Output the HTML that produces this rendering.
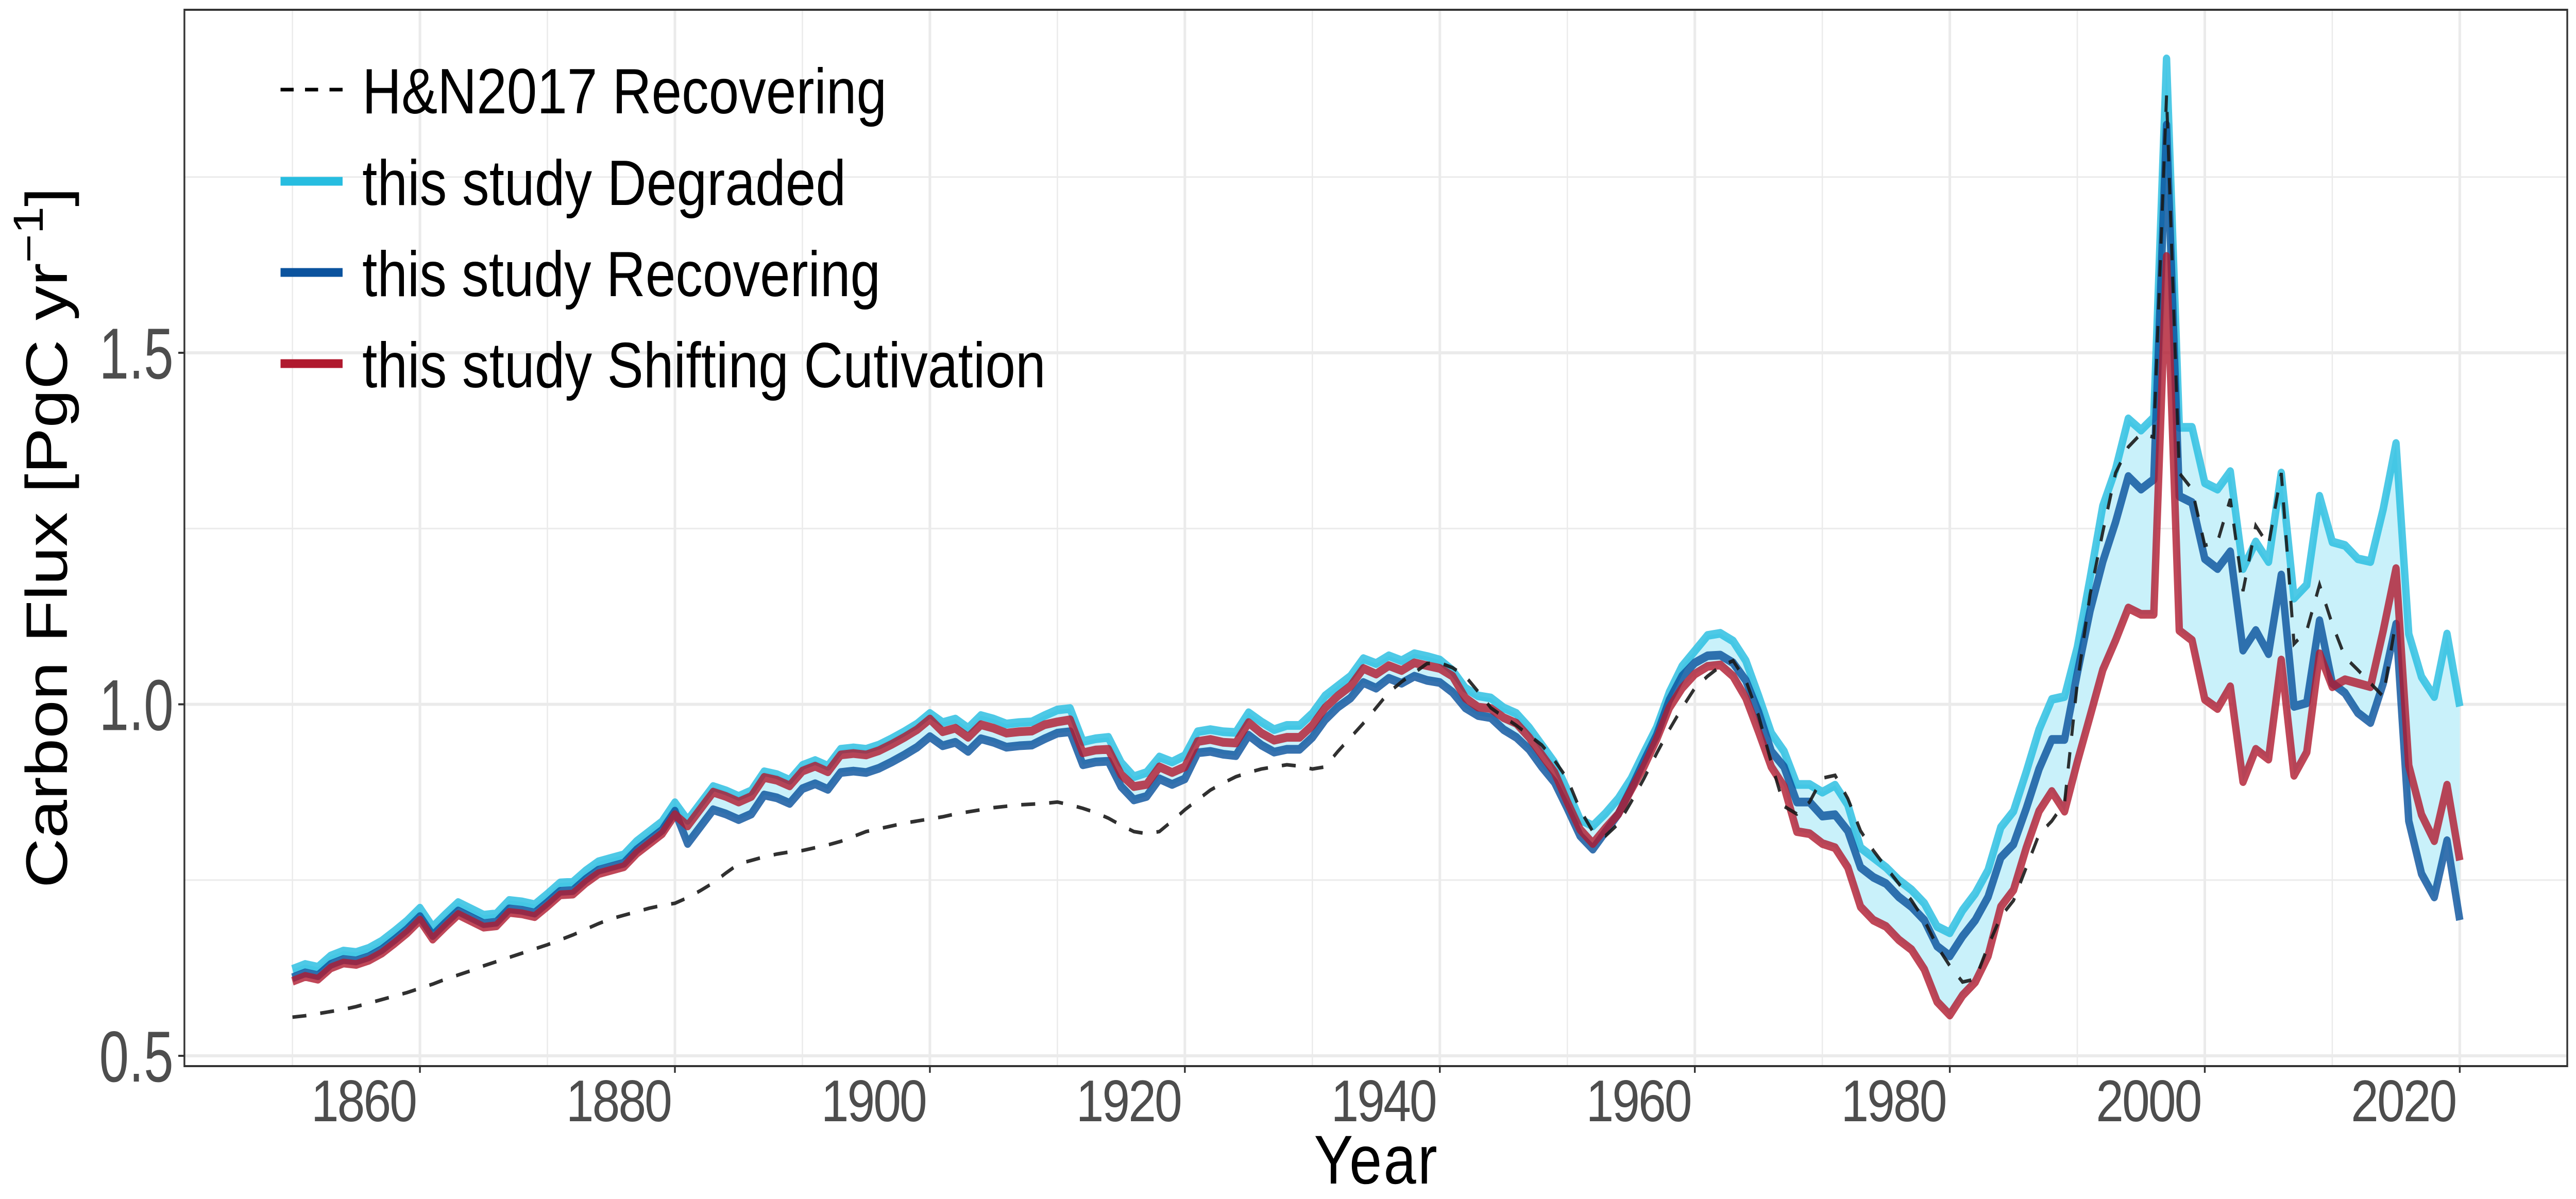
<!DOCTYPE html>
<html><head><meta charset="utf-8"><style>
html,body{margin:0;padding:0;background:#fff;width:100%;height:100%;overflow:hidden;}
svg{display:block;width:100vw;height:100vh;font-family:"Liberation Sans",Arial,sans-serif;}
</style></head><body>
<svg id="chart" viewBox="0 0 5895 2328" preserveAspectRatio="none" xmlns="http://www.w3.org/2000/svg">
<rect x="0" y="0" width="5895" height="2328" fill="#fff"/>
<g id="grid"></g>
<g id="series"></g>
<rect x="422" y="19" width="5453" height="2051" fill="none" stroke="#333" stroke-width="4"/>
<g id="axes"></g>
<text x="3148" y="2298" font-size="134" text-anchor="middle" textLength="282" fill="#000">Year</text>
<text transform="translate(153,1044) rotate(-90)" font-size="134" text-anchor="middle" fill="#000">Carbon Flux [PgC yr<tspan font-size="96" dy="-55">−1</tspan><tspan dy="55">]</tspan></text>
<g id="legend">
  <line x1="642" y1="174" x2="784" y2="174" stroke="#000" stroke-width="7" stroke-dasharray="30 26"/>
  <text x="829" y="220" font-size="124" textLength="1200" fill="#000">H&amp;N2017 Recovering</text>
  <line x1="642" y1="352" x2="784" y2="352" stroke="#27bde0" stroke-width="17"/>
  <text x="829" y="398" font-size="124" textLength="1107" fill="#000">this study Degraded</text>
  <line x1="642" y1="529" x2="784" y2="529" stroke="#0b539e" stroke-width="17"/>
  <text x="829" y="575" font-size="124" textLength="1186" fill="#000">this study Recovering</text>
  <line x1="642" y1="706" x2="784" y2="706" stroke="#b0192e" stroke-width="17"/>
  <text x="829" y="752" font-size="124" textLength="1564" fill="#000">this study Shifting Cutivation</text>
</g>
</svg>
<script>
const startYear = 1850;
const degraded = [
.623,.630,.626,.642,.649,.647,.653,.663,.677,.692,
.710,.683,.701,.718,.709,.700,.702,.721,.719,.715,
.730,.746,.747,.763,.776,.781,.786,.805,.819,.833,
.860,.835,.859,.883,.877,.869,.877,.904,.900,.892,
.913,.920,.912,.936,.938,.936,.942,.951,.961,.972,
.987,.974,.979,.966,.984,.979,.972,.974,.975,.984,
.992,.994,.947,.951,.953,.917,.897,.903,.925,.918,
.927,.961,.964,.961,.960,.988,.975,.964,.970,.970,
.987,1.012,1.026,1.040,1.065,1.058,1.069,1.062,1.072,1.068,
1.063,1.048,1.023,1.012,1.009,.995,.987,.967,.942,.917,
.878,.836,.827,.845,.866,.894,.931,.967,1.017,1.054,
1.076,1.098,1.101,1.090,1.062,1.012,.959,.933,.886,.886,
.875,.885,.857,.796,.782,.768,.750,.736,.717,.684,
.675,.707,.731,.764,.825,.848,.904,.964,1.007,1.011,
1.081,1.179,1.282,1.334,1.406,1.390,1.408,1.918,1.394,1.394,
1.315,1.306,1.331,1.193,1.231,1.203,1.329,1.151,1.170,1.296,
1.231,1.226,1.207,1.203,1.278,1.371,1.100,1.039,1.011,1.100,
.997];
const recovering = [
.611,.618,.614,.630,.637,.635,.641,.651,.665,.680,
.698,.671,.689,.706,.697,.688,.690,.709,.707,.703,
.718,.734,.735,.751,.764,.769,.774,.793,.807,.821,
.848,.802,.826,.850,.844,.836,.844,.871,.867,.859,
.880,.887,.879,.903,.905,.903,.909,.918,.928,.939,
.954,.941,.946,.933,.951,.946,.939,.941,.942,.951,
.959,.961,.914,.918,.919,.883,.864,.869,.894,.886,
.894,.931,.933,.929,.927,.956,.942,.932,.936,.936,
.953,.978,.996,1.009,1.031,1.023,1.037,1.030,1.040,1.034,
1.031,1.017,.995,.984,.981,.964,.953,.936,.911,.889,
.852,.813,.794,.819,.844,.880,.919,.956,1.006,1.040,
1.059,1.069,1.070,1.059,1.034,.989,.933,.911,.861,.861,
.841,.843,.820,.768,.754,.745,.726,.712,.693,.656,
.642,.670,.693,.726,.782,.801,.852,.908,.950,.950,
1.044,1.133,1.203,1.259,1.324,1.306,1.320,1.824,1.296,1.287,
1.207,1.193,1.217,1.077,1.105,1.072,1.184,.997,1.002,1.119,
1.030,1.016,.988,.974,1.030,1.114,.834,.759,.726,.806,
.693];
const shifting = [
.606,.613,.609,.625,.632,.630,.636,.646,.660,.675,
.693,.666,.684,.701,.692,.683,.685,.704,.702,.698,
.713,.729,.730,.746,.759,.764,.769,.788,.802,.816,
.843,.827,.851,.875,.869,.861,.869,.896,.892,.884,
.905,.912,.904,.928,.930,.928,.934,.943,.953,.964,
.979,.961,.966,.953,.971,.966,.959,.961,.962,.971,
.975,.978,.931,.935,.936,.900,.883,.886,.911,.903,
.911,.947,.950,.946,.945,.974,.959,.949,.953,.953,
.970,.995,1.012,1.026,1.051,1.043,1.055,1.048,1.059,1.055,
1.051,1.040,1.009,.996,.994,.981,.973,.953,.928,.903,
.861,.822,.802,.824,.844,.878,.911,.950,.995,1.023,
1.043,1.054,1.056,1.040,1.009,.961,.911,.883,.819,.816,
.802,.796,.768,.712,.693,.684,.665,.651,.623,.577,
.558,.586,.605,.642,.712,.736,.796,.848,.876,.848,
.918,.983,1.049,1.091,1.137,1.128,1.128,1.637,1.105,1.091,
1.007,.994,1.025,.890,.936,.922,1.063,.899,.932,1.072,
1.025,1.035,1.030,1.025,1.105,1.193,.913,.843,.806,.885,
.778];
const hn2017 = [
.555,.557,.560,.563,.566,.570,.575,.580,.585,.590,
.596,.602,.609,.615,.621,.628,.634,.640,.646,.652,
.658,.665,.672,.680,.688,.695,.700,.705,.710,.714,
.717,.725,.735,.746,.760,.773,.778,.783,.787,.790,
.792,.796,.800,.805,.812,.819,.823,.827,.831,.834,
.837,.840,.844,.847,.850,.853,.855,.857,.858,.859,
.861,.857,.852,.846,.838,.828,.819,.816,.819,.834,
.850,.864,.878,.888,.897,.903,.908,.911,.914,.912,
.908,.911,.933,.953,.973,.995,1.017,1.032,1.045,1.058,
1.059,1.052,1.040,1.018,.995,.982,.970,.956,.942,.920,
.894,.850,.819,.813,.830,.861,.894,.930,.964,.995,
1.023,1.040,1.054,1.062,1.034,.984,.917,.855,.844,.861,
.895,.899,.866,.820,.792,.768,.745,.721,.693,.656,
.628,.605,.609,.656,.698,.721,.768,.815,.834,.860,
1.03,1.156,1.245,1.329,1.366,1.385,1.380,1.866,1.329,1.306,
1.226,1.231,1.292,1.161,1.254,1.226,1.329,1.086,1.105,1.170,
1.114,1.067,1.049,1.030,1.011,1.119];
const xTicks = [1860,1880,1900,1920,1940,1960,1980,2000,2020];
const xMinor = [1850,1870,1890,1910,1930,1950,1970,1990,2010];
const yTicks = [0.5,1.0,1.5];
const yTickLabels = ["0.5","1.0","1.5"];
const yMinor = [0.75,1.25,1.75];

const NS = "http://www.w3.org/2000/svg";
const X0 = 422, X1 = 5875, Y0 = 19, Y1 = 2070;
function xs(yr){ return 961 + (yr - 1860) * 29.175; }
function ys(v){ return 2050 - (v - 0.5) * 1365; }
function mk(tag, attrs, parent){
  const el = document.createElementNS(NS, tag);
  for (const k in attrs) el.setAttribute(k, attrs[k]);
  parent.appendChild(el);
  return el;
}
const gridG = document.getElementById('grid');
const axesG = document.getElementById('axes');
const seriesG = document.getElementById('series');

yMinor.forEach(v => {
  const l = mk('line', {x1:X0, x2:X1, y1:ys(v), y2:ys(v), stroke:'#ebebeb', 'stroke-width':3}, gridG);
  
  
});
xMinor.forEach(yr => {
  const l = mk('line', {x1:xs(yr), x2:xs(yr), y1:Y0, y2:Y1, stroke:'#ebebeb', 'stroke-width':3}, gridG);
  
  
});
yTicks.forEach((v, i) => {
  const l = mk('line', {x1:X0, x2:X1, y1:ys(v), y2:ys(v), stroke:'#ebebeb', 'stroke-width':6}, gridG);
  
  
  const t = mk('line', {x1:408, x2:X0, y1:ys(v), y2:ys(v), stroke:'#333', 'stroke-width':4}, axesG);
  
  
  const tx = mk('text', {transform:'translate(397,' + (ys(v) + 50) + ') scale(1,1.15)', 'font-size':122, 'text-anchor':'end', fill:'#4d4d4d', textLength:170}, axesG);
  tx.textContent = yTickLabels[i];
  
  
});
xTicks.forEach(yr => {
  const l = mk('line', {x1:xs(yr), x2:xs(yr), y1:Y0, y2:Y1, stroke:'#ebebeb', 'stroke-width':6}, gridG);
  
  
  const t = mk('line', {x1:xs(yr), x2:xs(yr), y1:Y1, y2:2083, stroke:'#333', 'stroke-width':4}, axesG);
  
  
  const tx = mk('text', {x:xs(yr) - 6, y:2177, 'font-size':114, 'text-anchor':'end', fill:'#4d4d4d', textLength:243}, axesG);
  tx.textContent = String(yr);
  
  
});

// ribbon between max and min of the three study series
const upperPts = [], lowerPts = [];
for (let i = 0; i < degraded.length; i++) {
  const yr = startYear + i;
  const a = [degraded[i], recovering[i], shifting[i]];
  upperPts.push(xs(yr) + ',' + ys(Math.max(...a)));
  lowerPts.unshift(xs(yr) + ',' + ys(Math.min(...a)));
}
const rib = mk('polygon', {points: upperPts.concat(lowerPts).join(' '), fill:'#c9f1fa'}, seriesG);



function pts(arr){ return arr.map((v, i) => xs(startYear + i) + ',' + ys(v)).join(' '); }
const l1 = mk('polyline', {points:pts(degraded), fill:'none', stroke:'#27bde0', 'stroke-opacity':0.82, 'stroke-width':17, 'stroke-linejoin':'round'}, seriesG);


const l2 = mk('polyline', {points:pts(recovering), fill:'none', stroke:'#0b539e', 'stroke-opacity':0.82, 'stroke-width':17, 'stroke-linejoin':'round'}, seriesG);


const l3 = mk('polyline', {points:pts(shifting), fill:'none', stroke:'#b0192e', 'stroke-opacity':0.8, 'stroke-width':17, 'stroke-linejoin':'round'}, seriesG);


const l4 = mk('polyline', {points:pts(hn2017), fill:'none', stroke:'#1a1a1a', 'stroke-opacity':0.9, 'stroke-width':7, 'stroke-dasharray':'32 32'}, seriesG);


</script>
</body></html>
